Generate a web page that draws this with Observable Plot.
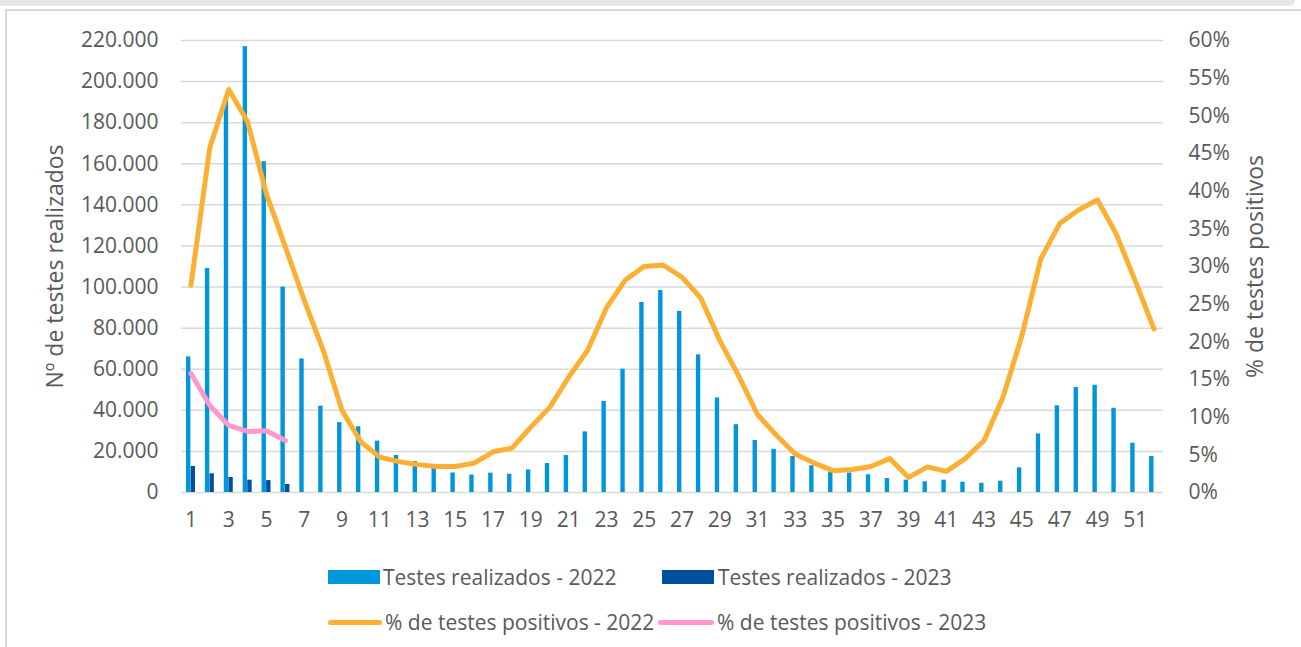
<!DOCTYPE html>
<html>
<head>
<meta charset="utf-8">
<script src="https://cdn.jsdelivr.net/npm/d3@7"></script>
<script src="https://cdn.jsdelivr.net/npm/@observablehq/plot@0.6"></script>
<style>
  html, body { margin: 0; padding: 0; background: #fff; }
  body { width: 1301px; height: 647px; position: relative; overflow: hidden; font-family: "Open Sans", sans-serif; color: #595959; }
  #topband { position: absolute; left: 0; top: 0; width: 1295px; height: 6px; background: #e6e6e6; border-bottom-right-radius: 6px; }
  #topline { position: absolute; left: 5px; top: 9px; width: 1296px; height: 2px; background: #d9d9d9; }
  #leftline { position: absolute; left: 5px; top: 9px; width: 2px; height: 640px; background: #d9d9d9; }
  #chart { position: absolute; left: 0; top: 0; }
  .lg { position: absolute; font-size: 21px; line-height: 24px; white-space: nowrap; color: #595959; }
  .sw { position: absolute; }
</style>
</head>
<body>
<div id="topband"></div>
<div id="topline"></div>
<div id="leftline"></div>
<div id="chart"></div>
<div id="legend"></div>
<script>
const weeks = [1,2,3,4,5,6,7,8,9,10,11,12,13,14,15,16,17,18,19,20,21,22,23,24,25,26,27,28,29,30,31,32,33,34,35,36,37,38,39,40,41,42,43,44,45,46,47,48,49,50,51,52];
const tests2022 = [66000,109000,192000,217000,161000,100000,65000,42000,34000,32000,25000,18000,15000,12000,9500,8500,9400,8900,11000,14100,18000,29500,44300,60000,92500,98300,88100,67000,46000,33000,25300,21000,17500,13000,10000,9500,8600,6800,6000,5200,6000,5000,4500,5500,12000,28500,42200,51100,52200,41000,24000,17500];
const weeks2023 = [1,2,3,4,5,6];
const tests2023 = [12650,9100,7300,6000,5800,3900];
const pct2022 = [27.5,45.8,53.5,49.2,39.6,32.6,25.5,18.9,10.9,6.7,4.7,4.1,3.7,3.45,3.45,3.9,5.4,5.9,8.7,11.3,15.3,18.85,24.5,28.2,30.0,30.2,28.6,25.8,20.2,15.5,10.35,7.6,5.1,3.9,2.9,3.05,3.45,4.5,2.0,3.4,2.8,4.5,6.9,12.65,20.8,31.0,35.7,37.5,38.85,34.3,28.1,21.7];
const pct2023 = [15.8,11.55,8.9,8.1,8.2,6.9];
const leftTicks = [0,20000,40000,60000,80000,100000,120000,140000,160000,180000,200000,220000];
const rightTicksPct = [0,5,10,15,20,25,30,35,40,45,50,55,60];
const xTickLabels = [1,3,5,7,9,11,13,15,17,19,21,23,25,27,29,31,33,35,37,39,41,43,45,47,49,51];
const leftTitle = "Nº de testes realizados";
const rightTitle = "% de testes positivos";
const legendItems = ["Testes realizados - 2022", "Testes realizados - 2023", "% de testes positivos - 2022", "% de testes positivos - 2023"];

const C22 = "#0096db", C23 = "#00509f", O22 = "#fbb034", P23 = "#ff99cc";
const YMAX = 220000, PMAX = 60;
const toY = p => p * YMAX / PMAX;

const bars22 = weeks.map((w, i) => ({week: w, v: tests2022[i]}));
const bars23 = weeks2023.map((w, i) => ({week: w, v: tests2023[i]}));
const line22 = weeks.map((w, i) => ({week: w, v: toY(pct2022[i])}));
const line23 = weeks2023.map((w, i) => ({week: w, v: toY(pct2023[i])}));

const fmtThousands = v => v === 0 ? "0" : d3.format(",")(v).replace(/,/g, ".");

const plot = Plot.plot({
  width: 1301,
  height: 550,
  marginLeft: 181,
  marginRight: 138,
  marginTop: 40,
  marginBottom: 58,
  style: {fontFamily: "Open Sans, sans-serif", fontSize: "21px", color: "#595959", background: "transparent"},
  x: {type: "band", domain: weeks, padding: 0},
  y: {domain: [0, YMAX]},
  marks: [
    Plot.ruleY(leftTicks, {stroke: "#d9d9d9", strokeWidth: 1.5}),
    Plot.barY(bars22, {x: "week", y: "v", fill: C22, insetLeft: 5.0, insetRight: 9.5}),
    Plot.barY(bars23, {x: "week", y: "v", fill: C23, insetLeft: 9.6, insetRight: 4.9}),
    Plot.line(line22, {x: "week", y: "v", stroke: O22, strokeWidth: 5, strokeLinejoin: "round", strokeLinecap: "round"}),
    Plot.line(line23, {x: "week", y: "v", stroke: P23, strokeWidth: 5, strokeLinejoin: "round", strokeLinecap: "round"}),
    Plot.axisY({anchor: "left", ticks: leftTicks, tickFormat: fmtThousands, tickSize: 0, tickPadding: 23, label: null, fontSize: 21, fill: "#595959"}),
    Plot.axisY({anchor: "right", ticks: rightTicksPct.map(toY), tickFormat: v => Math.round(v / YMAX * PMAX) + "%", tickSize: 0, tickPadding: 25, label: null, fontSize: 21, fill: "#595959"}),
    Plot.axisX({ticks: xTickLabels, tickSize: 0, tickPadding: 20, label: null, fontSize: 21, fill: "#595959"}),
    Plot.text([leftTitle], {frameAnchor: "left", dx: -126, rotate: -90, fontSize: 23, fill: "#595959", textAnchor: "middle", lineAnchor: "middle"}),
    Plot.text([rightTitle], {frameAnchor: "right", dx: 92, rotate: -90, fontSize: 23, fill: "#595959", textAnchor: "middle", lineAnchor: "middle"})
  ]
});
document.getElementById("chart").appendChild(plot);

// Legend
const lg = document.getElementById("legend");
const items = [
  {type: "rect", color: C22, sx: 328, sw: 52, tx: 383, cy: 577, label: legendItems[0]},
  {type: "rect", color: C23, sx: 662, sw: 52, tx: 718, cy: 577, label: legendItems[1]},
  {type: "line", color: O22, sx: 328, sw: 54, tx: 385, cy: 622, label: legendItems[2]},
  {type: "line", color: P23, sx: 658, sw: 56, tx: 717, cy: 622, label: legendItems[3]}
];
for (const it of items) {
  const s = document.createElement("div");
  s.className = "sw";
  s.style.left = it.sx + "px";
  s.style.width = it.sw + "px";
  s.style.background = it.color;
  if (it.type === "rect") {
    s.style.top = (it.cy - 7) + "px";
    s.style.height = "14px";
  } else {
    s.style.top = (it.cy - 2.5) + "px";
    s.style.height = "5px";
    s.style.borderRadius = "3px";
  }
  lg.appendChild(s);
  const t = document.createElement("div");
  t.className = "lg";
  t.style.left = it.tx + "px";
  t.style.top = (it.cy - 12) + "px";
  t.textContent = it.label;
  lg.appendChild(t);
}
</script>
</body>
</html>
